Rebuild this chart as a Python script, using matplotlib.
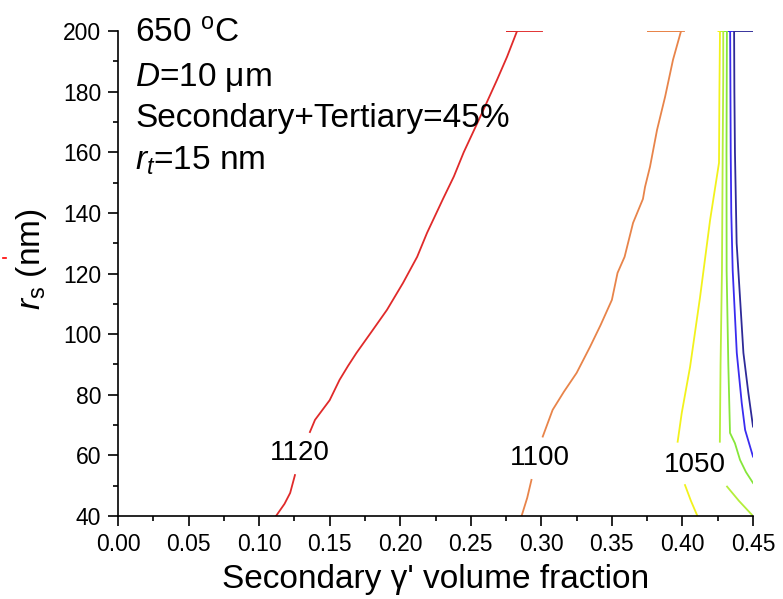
import numpy as np
import matplotlib
matplotlib.use('Agg')
import matplotlib.pyplot as plt
from matplotlib.lines import Line2D

plt.rcParams['font.family'] = ['Liberation Sans', 'DejaVu Sans']
plt.rcParams['mathtext.fontset'] = 'custom'
plt.rcParams['mathtext.rm'] = 'Liberation Sans'
plt.rcParams['mathtext.it'] = 'Liberation Sans:italic'

nan = np.nan

# Linhas de contorno (fração volumétrica x raio secundário)
red_x = [0.112, 0.118, 0.122, 0.1254, nan, 0.136, 0.1396, 0.150, 0.157, 0.163, 0.169, 0.180, 0.1906,
         0.202, 0.212, 0.219, 0.2303, 0.238, 0.245, 0.257, 0.2686, 0.2757, 0.2828, 0.2757, 0.3005]
red_y = [40, 44, 47.6, 53.5, nan, 67.7, 71.7, 78.2, 84.9, 89.5, 93.8, 101, 108,
         116.9, 125.5, 133.4, 144.6, 152, 160, 172, 183.9, 191.5, 200, 200, 200]

orange_x = [0.286, 0.290, 0.293, nan, 0.301, 0.308, 0.316, 0.325, 0.3345, 0.342, 0.350, 0.354, 0.359,
            0.365, 0.372, 0.3735, 0.377, 0.382, 0.3877, 0.3933, 0.399, 0.3756, 0.4011]
orange_y = [40, 46, 51.9, nan, 66.2, 75, 81, 87.2, 95.8, 103, 111.3, 120.2, 125.5,
            136.7, 144.6, 148.6, 155.2, 167.4, 178.3, 190.5, 200, 200, 200]

yellow_x = [0.4106, 0.4060, 0.4018, nan, 0.3966, 0.3995, 0.4054, 0.4125, 0.4196, 0.4259, 0.4262,
            0.4266, 0.4255, 0.4280]
yellow_y = [40, 45, 50.2, nan, 64.5, 74, 89.2, 112.3, 137.7, 156.5, 180, 200, 200, 200]

green1_x = [0.4500, 0.4400, 0.4316, nan, 0.4265, 0.4270, 0.4280, 0.4285, 0.4289, 0.4289, 0.4275, 0.4305]
green1_y = [40, 45, 49.7, nan, 64.5, 90, 121, 160, 185, 200, 200, 200]

green2_x = [0.4500, 0.4450, 0.4408, 0.4372, 0.4337, 0.4325, 0.4313, 0.4312, 0.4315, 0.4300, 0.4330]
green2_y = [50.9, 54.5, 58.5, 64, 67.4, 90, 121, 160, 200, 200, 200]

blue_x = [0.4500, 0.4444, 0.4420, 0.4385, 0.4356, 0.4346, 0.4342, 0.4338, 0.4330, 0.4370]
blue_y = [59.6, 68.4, 77.3, 93.8, 121, 140, 160, 200, 200, 200]

navy_x = [0.4500, 0.4467, 0.4432, 0.4396, 0.4384, 0.4372, 0.4368, 0.4366, 0.4505]
navy_y = [69.5, 80.6, 93.8, 121, 130, 160, 180, 200, 200]

linhas = [(red_x, red_y, '#e02a2a'), (orange_x, orange_y, '#e8844a'),
          (yellow_x, yellow_y, '#f2f21c'), (green1_x, green1_y, '#b4ee3a'),
          (green2_x, green2_y, '#86e63a'), (blue_x, blue_y, '#3a2cf0'),
          (navy_x, navy_y, '#2e2a98')]

# Rótulos das curvas
rotulos = ['1120', '1100', '1050']
rotulos_x = [0.129, 0.299, 0.409]
rotulos_y = [60.8, 59.1, 56.8]

fig = plt.figure(figsize=(7.83, 5.99), dpi=100)
ax = fig.add_axes([0.1507, 0.1386, 0.811, 0.8096])

for xs, ys, cor in linhas:
    ax.plot(xs, ys, color=cor, lw=1.3)

for t, x, y in zip(rotulos, rotulos_x, rotulos_y):
    ax.text(x, y, t, fontsize=20, ha='center', va='center')

ax.set_xlim(0, 0.45)
ax.set_ylim(40, 200)
ax.set_xticks(np.arange(0, 0.451, 0.05))
ax.set_xticks(np.arange(0.025, 0.45, 0.05), minor=True)
ax.set_yticks(np.arange(40, 201, 20))
ax.set_yticks(np.arange(50, 200, 20), minor=True)
ax.set_xticklabels([f'{v:.2f}' for v in np.arange(0, 0.451, 0.05)])

ax.tick_params(which='major', direction='out', length=7, width=1.2, labelsize=16.5)
ax.tick_params(axis='x', which='major', pad=5)
ax.tick_params(axis='y', which='major', pad=5)
ax.tick_params(which='minor', direction='out', length=3.5, width=1.2)
for s in ['top', 'right']:
    ax.spines[s].set_visible(False)
for s in ['left', 'bottom']:
    ax.spines[s].set_linewidth(1.2)

ax.set_xlabel("Secondary \u03b3' volume fraction", fontsize=24, labelpad=6)
ax.set_ylabel(r'$\mathit{r}_\mathrm{s}$ (nm)', fontsize=24)
ax.yaxis.set_label_coords(-0.108, 0.53)

# Anotações no canto superior esquerdo
x_txt = 135 / 783
fig.text(x_txt, 1 - 43 / 599, '650 $^\\mathrm{o}$C', fontsize=24, va='baseline')
fig.text(x_txt, 1 - 86 / 599, r'$\mathit{D}$=10 $\mathrm{\mu}$m', fontsize=24, va='baseline')
fig.text(x_txt, 1 - 127 / 599, 'Secondary+Tertiary=45%', fontsize=24, va='baseline')
fig.text(x_txt, 1 - 170 / 599, r'$\mathit{r}_\mathit{t}$=15 nm', fontsize=24, va='baseline')

# pequena marca vermelha à esquerda do rótulo do eixo y
fig.add_artist(Line2D([3 / 783, 6 / 783], [1 - 258 / 599, 1 - 258 / 599], color='red', lw=1.2))

fig.savefig('out.png', dpi=100)
